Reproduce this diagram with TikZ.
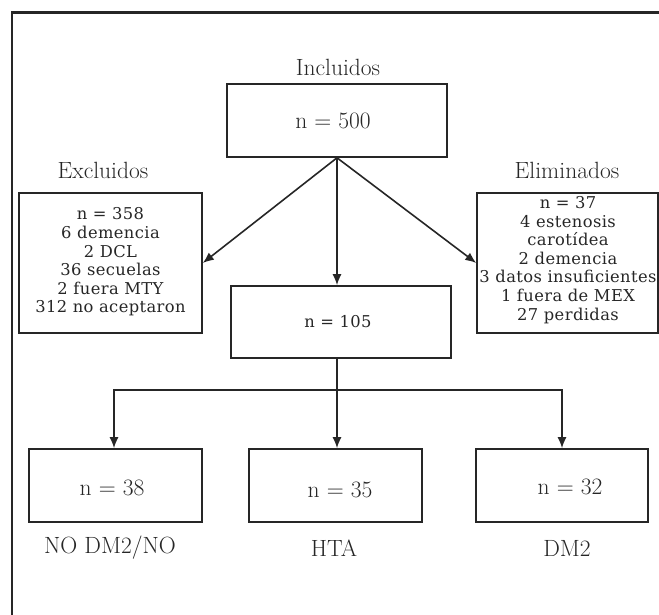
\documentclass[tikz,border=0pt]{standalone}
\usepackage{fontspec}
\newfontfamily\listfont[LetterSpace=2.5]{DejaVu Serif}
\usetikzlibrary{arrows.meta,calc}
\definecolor{ink}{gray}{0.15}
\tikzset{
  boxnode/.style={draw=ink, line width=1.6pt, rectangle, inner sep=0pt},
  lbl/.style={text=ink, font=\fontsize{23.5}{28}\selectfont, inner sep=0pt},
  listtext/.style={text=ink, align=center, inner sep=0pt, font=\listfont\fontsize{16.3}{18.6}\selectfont},
  arr/.style={draw=ink, line width=1.6pt, -{Latex[length=11pt,width=9pt]}},
  conn/.style={draw=ink, line width=1.6pt}
}
\begin{document}
\begin{tikzpicture}[x=1pt,y=-1pt]
\useasboundingbox (0,0) rectangle (659,615);
% frame
\draw[ink, line width=2.6pt] (12,615) -- (12,12.5) -- (659,12.5);

% labels
\node[lbl] (linc) at (338,67) {Incluidos};
\node[lbl] (lexc) at (103,170) {Excluidos};
\node[lbl] (lelim) at (567,170) {Eliminados};

% top box
\node[boxnode, minimum width=220pt, minimum height=73pt] (top) at (337,120.5) {};
\node[lbl] (ttop) at (333,121) {n = 500};

% left box
\node[boxnode, minimum width=183pt, minimum height=140pt] (exc) at (110.5,263) {};
\node[listtext] (texc) at (110.5,262) {n = 358\\6 demencia\\2 DCL\\36 secuelas\\2 fuera MTY\\312 no aceptaron};

% right box
\node[boxnode, minimum width=181pt, minimum height=140pt] (elim) at (567.5,263) {};
\node[listtext] (telim) at (568,260) {n = 37\\4 estenosis\\carotídea\\2 demencia\\3 datos insuficientes\\1 fuera de MEX\\27 perdidas};

% middle box
\node[boxnode, minimum width=220pt, minimum height=72pt] (mid) at (341,322) {};
\node[listtext] (tmid) at (338,322) {n = 105};

% bottom boxes
\node[boxnode, minimum width=173pt, minimum height=73pt] (b1) at (115.5,485.5) {};
\node[boxnode, minimum width=173pt, minimum height=73pt] (b2) at (335.5,485.5) {};
\node[boxnode, minimum width=172pt, minimum height=73pt] (b3) at (562,485.5) {};
\node[lbl] (t1) at (112,488) {n = 38};
\node[lbl] (t2) at (340,490) {n = 35};
\node[lbl] (t3) at (570,487) {n = 32};

\node[lbl] (l1) at (110,548) {NO DM2/NO};
\node[lbl] (l2) at (334,548) {HTA};
\node[lbl] (l3) at (567,548) {DM2};

% connectors
\draw[arr] (top.south) -- (exc.east);
\draw[arr] (top.south) -- (elim.west);
\draw[arr] (top.south) -- (top.south |- mid.north);

\coordinate (split) at (337,390);
\draw[conn] (top.south |- mid.south) -- (split);
\draw[arr] (split) -| ($(b1.north)+(-1.5,0)$);
\draw[arr] (split) -- (split |- b2.north);
\draw[arr] (split) -| (b3.north);
\end{tikzpicture}
\end{document}
